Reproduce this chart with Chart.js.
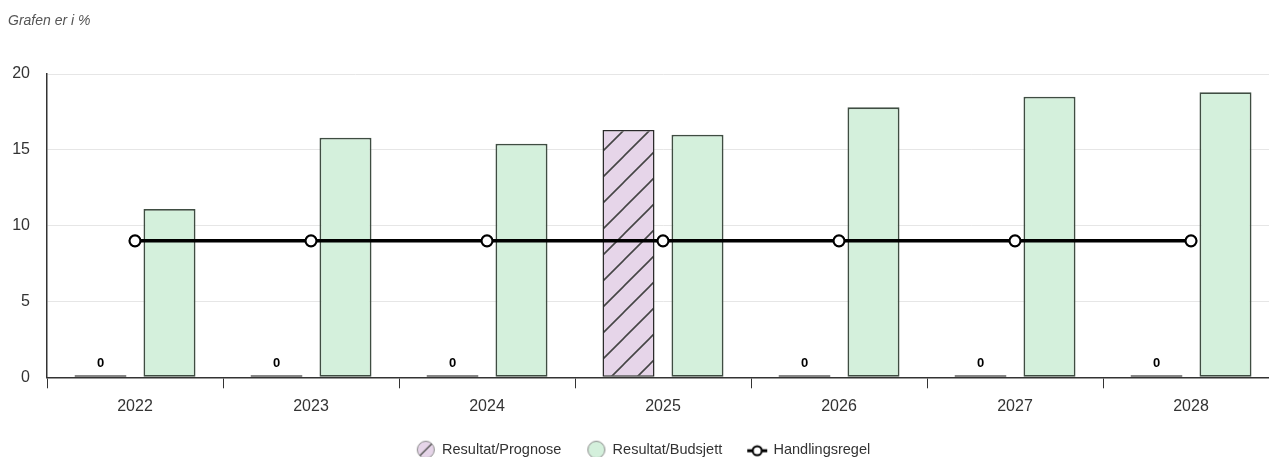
<!DOCTYPE html>
<html>
<head>
<meta charset="utf-8">
<script src="https://cdn.jsdelivr.net/npm/chart.js@4.4.1/dist/chart.umd.min.js"></script>
<style>
  html, body { margin: 0; padding: 0; background: #fff; overflow: hidden; width: 1269px; height: 457px; }
  #wrap { position: relative; width: 1290px; height: 457px; }
</style>
</head>
<body>
<div id="wrap"><canvas id="c"></canvas></div>
<script>
const categories = ['2022', '2023', '2024', '2025', '2026', '2027', '2028'];
const prognose = [0, 0, 0, 16.3, 0, 0, 0];
const budsjett = [11.1, 15.8, 15.4, 16.0, 17.8, 18.5, 18.8];
const handlingsregel = [9, 9, 9, 9, 9, 9, 9];
const yTicks = [0, 5, 10, 15, 20];

const FONT = "'Liberation Sans', Arial, sans-serif";
const BORDER = '#3f4d42';
const GREEN = '#d4f0dc';
const PURPLE = '#e6d5e9';

function makeHatch(size) {
  const c = document.createElement('canvas');
  c.width = size; c.height = size;
  const x = c.getContext('2d');
  x.fillStyle = PURPLE;
  x.fillRect(0, 0, size, size);
  x.strokeStyle = '#454545';
  x.lineWidth = 1.6;
  x.beginPath();
  x.moveTo(0, size); x.lineTo(size, 0);
  x.moveTo(-size / 2, size / 2); x.lineTo(size / 2, -size / 2);
  x.moveTo(size / 2, size * 1.5); x.lineTo(size * 1.5, size / 2);
  x.stroke();
  return c;
}
const hatchTile = makeHatch(26);
const ctx = document.getElementById('c').getContext('2d');
const hatch = ctx.createPattern(hatchTile, 'repeat');

function iconCircle(fill, hatched) {
  const c = document.createElement('canvas');
  c.width = 20; c.height = 20;
  const x = c.getContext('2d');
  x.beginPath(); x.arc(10, 10, 8.5, 0, Math.PI * 2);
  x.fillStyle = fill; x.fill();
  if (hatched) {
    x.save(); x.clip();
    x.strokeStyle = '#555'; x.lineWidth = 1.5;
    x.beginPath(); x.moveTo(3, 17); x.lineTo(17, 3); x.stroke();
    x.restore();
  }
  x.beginPath(); x.arc(10, 10, 8.5, 0, Math.PI * 2);
  x.strokeStyle = '#8a8a8a'; x.lineWidth = 1; x.stroke();
  return c;
}
function iconLine() {
  const c = document.createElement('canvas');
  c.width = 22; c.height = 20;
  const x = c.getContext('2d');
  x.strokeStyle = '#000'; x.lineWidth = 3;
  x.beginPath(); x.moveTo(1, 11); x.lineTo(21, 11); x.stroke();
  x.beginPath(); x.arc(11, 11, 4.5, 0, Math.PI * 2);
  x.fillStyle = '#fff'; x.fill();
  x.lineWidth = 2; x.stroke();
  return c;
}
const icons = [iconCircle(PURPLE, true), iconCircle(GREEN, false), iconLine()];

const zeroLabels = {
  id: 'zeroLabels',
  afterDatasetsDraw(chart) {
    const meta = chart.getDatasetMeta(0);
    const c = chart.ctx;
    c.save();
    c.font = "bold 13px " + FONT;
    c.fillStyle = '#000';
    c.textAlign = 'center';
    c.textBaseline = 'bottom';
    meta.data.forEach((bar, i) => {
      if (prognose[i] === 0) c.fillText('0', bar.x, chart.scales.y.getPixelForValue(0) - 7);
    });
    c.restore();
  }
};

new Chart(ctx, {
  data: {
    labels: categories,
    datasets: [
      {
        type: 'bar', label: 'Resultat/Prognose', data: prognose, order: 1,
        backgroundColor: (c) => (prognose[c.dataIndex] === 0 ? '#333' : hatch),
        borderColor: '#2a2a2a', borderWidth: 1.5, borderSkipped: false,
        minBarLength: 2, categoryPercentage: 0.784, barPercentage: 0.754
      },
      {
        type: 'bar', label: 'Resultat/Budsjett', data: budsjett, order: 1,
        backgroundColor: GREEN, borderColor: BORDER, borderWidth: 1.8, borderSkipped: false,
        categoryPercentage: 0.784, barPercentage: 0.754
      },
      {
        type: 'line', label: 'Handlingsregel', data: handlingsregel, order: 0,
        borderColor: '#000', borderWidth: 3.5, backgroundColor: '#fff',
        pointBackgroundColor: '#fff', pointBorderColor: '#000', pointBorderWidth: 2.2,
        pointRadius: 5.5, fill: false, tension: 0
      }
    ]
  },
  options: {
    responsive: true, maintainAspectRatio: false, animation: false,
    layout: { padding: { left: 8, right: 11, top: 0, bottom: -10 } },
    plugins: {
      tooltip: { enabled: false },
      title: {
        display: true, text: 'Grafen er i %', align: 'start', color: '#555',
        font: { family: FONT, size: 14, style: 'italic', weight: 'normal', lineHeight: 1.2 },
        padding: { top: 12.6, bottom: 44.6 }
      },
      legend: {
        position: 'bottom',
        labels: {
          usePointStyle: true, pointStyleWidth: 18, boxHeight: 14, padding: 26,
          color: '#333', font: { family: FONT, size: 14.5 },
          generateLabels(chart) {
            return chart.data.datasets.map((d, i) => ({
              text: d.label, datasetIndex: i, pointStyle: icons[i],
              fillStyle: 'transparent', strokeStyle: 'transparent', lineWidth: 0,
              fontColor: '#333', hidden: false
            }));
          }
        }
      }
    },
    scales: {
      x: {
        grid: { display: true, offset: true, drawOnChartArea: false, drawTicks: true, tickLength: 11, color: '#333', lineWidth: 1 },
        border: { display: true, color: '#333', width: 1.5 },
        ticks: { color: '#333', font: { family: FONT, size: 16 }, padding: 9 },
        afterFit(scale) { scale.height -= 9; }
      },
      y: {
        min: 0, max: 20,
        afterBuildTicks(scale) { scale.ticks = yTicks.map(v => ({ value: v })); },
        afterFit(scale) { scale.width = 39; },
        grid: { color: '#e6e6e6', drawTicks: false, lineWidth: 1 },
        border: { display: true, color: '#333', width: 1.5 },
        ticks: { color: '#333', font: { family: FONT, size: 16 }, padding: 17 }
      }
    }
  },
  plugins: [zeroLabels]
});
</script>
</body>
</html>
